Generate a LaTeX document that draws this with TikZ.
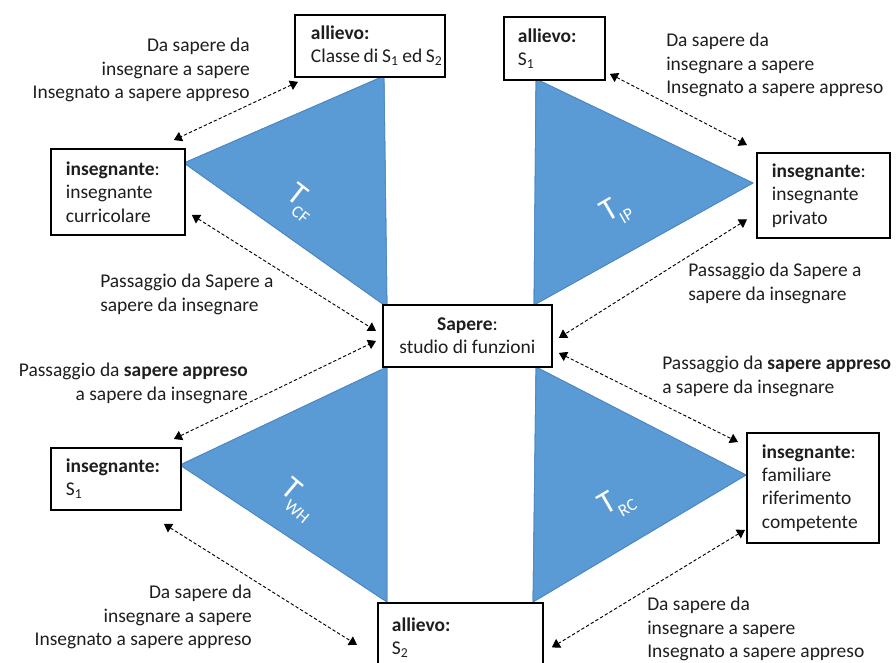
\documentclass[tikz,border=0pt]{standalone}
\usepackage{fontspec}
\setmainfont{Carlito}
\usetikzlibrary{arrows.meta,calc}
\definecolor{triblue}{RGB}{91,155,213}
\definecolor{triedge}{RGB}{78,138,198}
\definecolor{txt}{RGB}{30,30,30}
\hyphenpenalty=10000
\exhyphenpenalty=10000
\newcommand{\tsub}[2]{#1\kern-0.07em\raisebox{-0.3em}{\fontsize{13pt}{13pt}\selectfont #2}}
\begin{document}
\begin{tikzpicture}[x=0.75pt,y=-0.75pt,
  every node/.style={text=txt,font=\fontsize{14.6pt}{17.5pt}\selectfont},
  box/.style={draw=black,line width=1.4pt,fill=white,anchor=north west,align=left,inner ysep=0pt},
  lbl/.style={inner sep=0pt},
  tri/.style={fill=triblue,draw=triedge,line width=0.6pt,line join=round},
  tname/.style={text=white,font=\fontsize{24pt}{28pt}\selectfont,inner sep=0pt},
  conn/.style={line width=0.7pt,dash pattern=on 2.5pt off 1.6pt,
    {Triangle[width=7.5pt,length=6pt]}-{Triangle[width=7.5pt,length=6pt]}}]
\useasboundingbox (0,0) rectangle (896,663);

% triangles
\fill[tri] (384,76) -- (184,163) -- (387,307) -- cycle;
\fill[tri] (536,79) -- (753,183) -- (534,305) -- cycle;
\fill[tri] (387,367) -- (180,465) -- (387,602) -- cycle;
\fill[tri] (536,367) -- (746,475) -- (533,602) -- cycle;
\draw[tri,fill=none] (384,76) -- (184,163) -- (387,307) -- cycle;
\draw[tri,fill=none] (536,79) -- (753,183) -- (534,305) -- cycle;
\draw[tri,fill=none] (387,367) -- (180,465) -- (387,602) -- cycle;
\draw[tri,fill=none] (536,367) -- (746,475) -- (533,602) -- cycle;

\node[tname,rotate=-38] (tcf) at (301,203) {\tsub{T}{CF}};
\node[tname,rotate=30]  (tip) at (616,211) {\tsub{T}{IP}};
\node[tname,rotate=-40] (twh) at (298,500) {\tsub{T}{WH}};
\node[tname,rotate=30]  (trc) at (617,503) {\tsub{T}{RC}};

% boxes
\node[box,minimum height=46.5pt,text width=88.5pt,inner xsep=12pt] (b1) at (294,14)
  {\textbf{allievo:}\\\mbox{\spaceskip=0.19em Classe di S\textsubscript{1} ed S\textsubscript{2}}};
\node[box,minimum height=47.25pt,text width=54.75pt,inner xsep=10.5pt] (b2) at (503,16)
  {\textbf{allievo:}\\S\textsubscript{1}};
\node[box,minimum height=64.5pt,text width=78pt,inner xsep=11.25pt] (b3) at (50,148)
  {\textbf{insegnante}:\\insegnante\\curricolare};
\node[box,minimum height=63.75pt,text width=77.25pt,inner xsep=11.25pt] (b4) at (756,152)
  {\textbf{insegnante}:\\insegnante\\privato};
\node[box,minimum height=46.5pt,minimum width=126.75pt,align=center] (sap) at (382,304)
  {\textbf{Sapere}:\\studio di funzioni};
\node[box,minimum height=46.5pt,text width=75pt,inner xsep=11.25pt] (b6) at (50,447)
  {\mbox{\textbf{insegnante:}}\\S\textsubscript{1}};
\node[box,minimum height=82.5pt,text width=76.5pt,inner xsep=11.25pt] (b7) at (746,432)
  {\textbf{insegnante}:\\familiare\\riferimento\\competente};
\node[box,minimum height=51.75pt,text width=102.75pt,inner xsep=10.5pt] (b8) at (377,602)
  {\textbf{allievo:}\\S\textsubscript{2}};

% labels
\node[lbl,anchor=east,align=right] (l1) at (250,70)
  {Da sapere da\\insegnare a sapere\\Insegnato a sapere appreso};
\node[lbl,anchor=west,align=left] (l2) at (666,65)
  {Da sapere da\\insegnare a sapere\\Insegnato a sapere appreso};
\node[lbl,anchor=west,align=left] (l3) at (100,294.5)
  {Passaggio da Sapere a\\sapere da insegnare};
\node[lbl,anchor=west,align=left] (l4) at (688,283.5)
  {Passaggio da Sapere a\\sapere da insegnare};
\node[lbl,anchor=east,align=right] (l5) at (248,383.5)
  {Passaggio da \textbf{sapere appreso}\\a sapere da insegnare};
\node[lbl,anchor=west,align=left] (l6) at (662,376.5)
  {Passaggio da \textbf{sapere appreso}\\a sapere da insegnare};
\node[lbl,anchor=east,align=right] (l7) at (252,617)
  {Da sapere da\\insegnare a sapere\\Insegnato a sapere appreso};
\node[lbl,anchor=west,align=left] (l8) at (647,629)
  {Da sapere da\\insegnare a sapere\\Insegnato a sapere appreso};

% connectors
\draw[conn] ($(b1.south west)+(4,4)$) -- ($(b3.north east)+(-12,-8)$);
\draw[conn] ($(b3.east)+(6,23)$) -- ($(sap.west)+(-6,-5)$);
\draw[conn] ($(b6.north east)+(-8,-8)$) -- ($(sap.west)+(-6,5)$);
\draw[conn] ($(b6.south east)+(-18,13)$) -- ($(b8.west)+(-20,7.5)$);
\draw[conn] ($(b2.south east)+(4,-7)$) -- ($(b4.north west)+(-9,-7)$);
\draw[conn] ($(b4.west)+(-9,24)$) -- ($(sap.east)+(6,2)$);
\draw[conn] ($(sap.east)+(6,17)$) -- ($(b7.north west)+(-8,10)$);
\draw[conn] ($(b7.south west)+(-1,-14)$) -- ($(b8.east)+(8,10)$);
\end{tikzpicture}
\end{document}
